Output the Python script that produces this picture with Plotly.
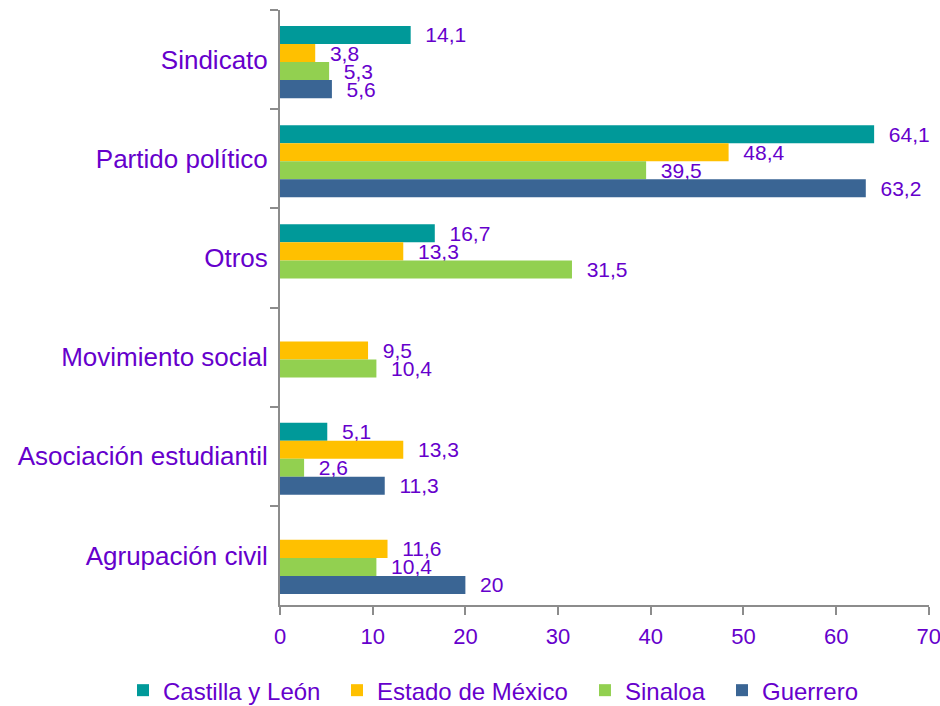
import plotly.graph_objects as go

categories = ["Sindicato", "Partido político", "Otros", "Movimiento social",
              "Asociación estudiantil", "Agrupación civil"]
series_names = ["Castilla y León", "Estado de México", "Sinaloa", "Guerrero"]
castilla = [14.1, 64.1, 16.7, None, 5.1, None]
estado = [3.8, 48.4, 13.3, 9.5, 13.3, 11.6]
sinaloa = [5.3, 39.5, 31.5, 10.4, 2.6, 10.4]
guerrero = [5.6, 63.2, None, None, 11.3, 20]
x_ticks = [0, 10, 20, 30, 40, 50, 60, 70]
colors = ["#009999", "#FFC000", "#92D050", "#3A6594"]

purple = "#6600CC"
axis_gray = "#8C8C8C"

bar_w = 0.182
group_shift = 0.025
legend_x = [-0.2234, 0.1063, 0.4884, 0.6995]
legend_ids = ["legend", "legend2", "legend3", "legend4"]

def fmt(v):
    if v is None:
        return ""
    s = ("%g" % v).replace(".", ",")
    return "  " + s

fig = go.Figure()
for i, (name, vals, col) in enumerate(zip(series_names, [castilla, estado, sinaloa, guerrero], colors)):
    fig.add_trace(go.Bar(
        y=categories, x=vals, name=name, orientation="h",
        width=bar_w, offset=group_shift - 2 * bar_w + i * bar_w,
        marker=dict(color=col, line=dict(width=0)),
        text=[fmt(v) for v in vals], textposition="outside",
        constraintext="none",
        textfont=dict(color=purple, size=21, family="Liberation Sans"),
        cliponaxis=False, legend=legend_ids[i], showlegend=True,
    ))

layout_legends = {}
for lid, lx in zip(legend_ids, legend_x):
    layout_legends[lid] = dict(orientation="h", x=lx, xanchor="left",
                               y=-0.106, yanchor="top",
                               font=dict(size=24, color=purple),
                               itemwidth=30, indentation=-12,
                               bgcolor="rgba(0,0,0,0)")

fig.update_layout(
    width=940, height=706, showlegend=True,
    barmode="group", bargap=0.27, bargroupgap=0,
    plot_bgcolor="white", paper_bgcolor="white",
    margin=dict(l=280, r=11, t=10, b=101, autoexpand=False),
    font=dict(family="Liberation Sans", color=purple),
    **layout_legends,
)
fig.update_xaxes(range=[0, 70.02], tickvals=x_ticks, showgrid=False, zeroline=False,
                 showline=True, linecolor=axis_gray, linewidth=2, automargin=False,
                 ticks="outside", ticklen=8, tickwidth=2, tickcolor=axis_gray,
                 ticklabelstandoff=3, ticklabeloverflow="allow",
                 tickfont=dict(size=22, color=purple))
fig.update_yaxes(categoryorder="array", categoryarray=categories, autorange="reversed",
                 showgrid=False, showline=True, linecolor=axis_gray, linewidth=2,
                 automargin=False,
                 ticks="outside", ticklen=8, tickwidth=2, tickcolor=axis_gray,
                 tickson="boundaries", ticklabelstandoff=5,
                 tickfont=dict(size=26, color=purple))

fig.write_html("out.html", config={"displayModeBar": False},
               post_script="document.body.style.margin='0';")
